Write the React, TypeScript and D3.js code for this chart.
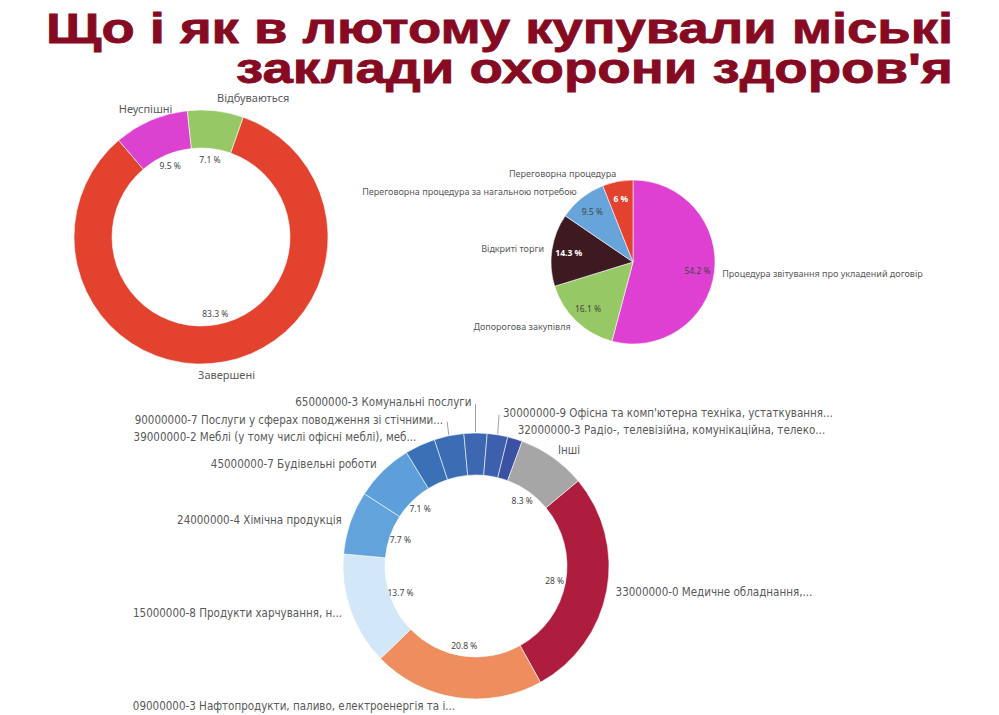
import React from 'react'
import * as d3 from 'd3'

const W = 999
const H = 715

const titleLines = ['Що і як в лютому купували міські', "заклади охорони здоров'я"]

// статус закупівель, %
const statusLabels = ['Завершені', 'Неуспішні', 'Відбуваються']
const statusValues = [83.3, 9.5, 7.1]
const statusColors = ['#e2422e', '#dc42d0', '#97c866']

// тип процедури, %
const procLabels = [
  'Процедура звітування про укладений договір',
  'Допорогова закупівля',
  'Відкриті торги',
  'Переговорна процедура за нагальною потребою',
  'Переговорна процедура',
]
const procValues = [54.2, 16.1, 14.3, 9.5, 6]
const procColors = ['#de40d2', '#97c866', '#3d1a20', '#67a4da', '#e2422e']

// предмет закупівлі (CPV), %
const cpvLabels = [
  '33000000-0 Медичне обладнання,...',
  '09000000-3 Нафтопродукти, паливо, електроенергія та і...',
  '15000000-8 Продукти харчування, н...',
  '24000000-4 Хімічна продукція',
  '45000000-7 Будівельні роботи',
  '39000000-2 Меблі (у тому числі офісні меблі), меб...',
  '90000000-7 Послуги у сферах поводження зі стічними...',
  '65000000-3 Комунальні послуги',
  "30000000-9 Офісна та комп'ютерна техніка, устаткування...",
  '32000000-3 Радіо-, телевізійна, комунікаційна, телеко...',
  'Інші',
]
const cpvValues = [28, 20.8, 13.7, 7.7, 7.1, 3.7, 3.6, 2.8, 2.5, 1.8, 8.3]
const cpvColors = [
  '#ae1c3e', '#ee8e5f', '#d2e8f8', '#63a3dc', '#5d9fda',
  '#3a70b6', '#3b6cb4', '#3c67b1', '#3c60ad', '#3a51a4', '#a6a6a6',
]

const FONT = "'Noto Sans', 'Open Sans', sans-serif"

interface PieProps {
  labels: string[]
  values: number[]
  colors: string[]
  cx: number
  cy: number
  outer: number
  inner: number
  start: number // degrees, clockwise from 12 o'clock
  pctR: number
  labelR: number
  mode: 'center' | 'side'
  anchors?: Record<string, 'start' | 'middle' | 'end'>
  labelSize: number
  pctSize: number
  pctMin?: number
  gap?: number
  mono?: boolean
}

const Pie: React.FC<PieProps> = ({
  labels, values, colors, cx, cy, outer, inner, start, pctR, labelR, mode,
  anchors = {}, labelSize, pctSize, pctMin = 0, gap = 0, mono = false,
}) => {
  const a0 = (start * Math.PI) / 180
  const arcs = d3.pie<number>().sort(null).startAngle(a0).endAngle(a0 + 2 * Math.PI)(values)
  const arc = d3.arc<d3.PieArcDatum<number>>().innerRadius(inner).outerRadius(outer)

  const mids = arcs.map(a => (a.startAngle + a.endAngle) / 2)
  const items = arcs.map((a, i) => {
    const m = mids[i]
    const s = Math.sin(m)
    const c = Math.cos(m)
    return {
      i,
      side: s < 0 ? -1 : 1,
      ax: cx + labelR * s,
      ay: cy - labelR * c,
      y: cy - labelR * c,
      ex: cx + (outer + 1) * s,
      ey: cy - (outer + 1) * c,
    }
  })

  // push overlapping labels upward on each side
  if (gap > 0) {
    for (const side of [-1, 1]) {
      const grp = items.filter(d => d.side === side).sort((p, q) => p.y - q.y)
      for (let k = grp.length - 2; k >= 0; k--) {
        grp[k].y = Math.min(grp[k].y, grp[k + 1].y - gap)
      }
    }
  }

  return (
    <g>
      {arcs.map((a, i) => (
        <path key={i} d={arc(a)!} transform={`translate(${cx},${cy})`}
          fill={colors[i]} stroke="#fff" strokeOpacity={0.7} strokeWidth={0.8} />
      ))}
      {arcs.map((a, i) => {
        if (values[i] < pctMin) return null
        const m = mids[i]
        const lum = d3.lab(colors[i]).l
        const dark = inner === 0 && lum < 54
        return (
          <text key={i} x={cx + pctR * Math.sin(m)} y={cy - pctR * Math.cos(m)}
            textAnchor="middle" dominantBaseline="central" fontFamily={FONT}
            fontSize={pctSize} fontWeight={dark ? 700 : 400}
            fill={dark ? '#fff' : '#444'}>
            {`${values[i]} %`}
          </text>
        )
      })}
      {items.map(d => {
        const name = labels[d.i]
        let anchor: 'start' | 'middle' | 'end' = mode === 'center' ? 'middle' : d.side < 0 ? 'end' : 'start'
        if (anchors[name]) anchor = anchors[name]
        const moved = Math.abs(d.y - d.ay) > 4
        const tx = moved ? d.ax + d.side * 4 : d.ax
        return (
          <g key={d.i}>
            {moved && (
              <line x1={d.ex} y1={d.ey} x2={d.ax} y2={d.y + 2} stroke="#888" strokeWidth={0.8} />
            )}
            <text x={tx} y={d.y} textAnchor={anchor} dominantBaseline="central"
              fontFamily={mono ? "'DejaVu Sans Condensed', 'Noto Sans', sans-serif" : FONT}
              fontSize={labelSize} fill="#595959">
              {name}
            </text>
          </g>
        )
      })}
    </g>
  )
}

export default function App() {
  return (
    <svg width={W} height={H} style={{ position: 'absolute', left: 0, top: 0, background: '#fff' }}>
      <rect width={W} height={H} fill="#fff" />
      <g fontFamily="'Liberation Sans', Arial, sans-serif"
        fontWeight={700} fill="#860a22" fontSize={42} textAnchor="end"
        stroke="#860a22" strokeWidth={0.8}>
        <text x={953} y={43} textLength={907} lengthAdjust="spacingAndGlyphs">{titleLines[0]}</text>
        <text x={953} y={83} textLength={717} lengthAdjust="spacingAndGlyphs">{titleLines[1]}</text>
      </g>

      <Pie labels={statusLabels} values={statusValues} colors={statusColors}
        cx={201} cy={237} outer={127} inner={89} start={19.4}
        pctR={78} labelR={140} mode="center" anchors={{ 'Відбуваються': 'start' }}
        labelSize={11} pctSize={8.5} />

      <Pie labels={procLabels} values={procValues} colors={procColors}
        cx={633} cy={262} outer={82} inner={0} start={0}
        pctR={65} labelR={90} mode="side" labelSize={9} pctSize={8.5} gap={14} />

      <Pie labels={cpvLabels} values={cpvValues} colors={cpvColors}
        cx={476} cy={566} outer={133} inner={91} start={50.2}
        pctR={80} labelR={142} mode="side" labelSize={11.5} pctSize={8.5}
        pctMin={7} gap={17.5} mono />
    </svg>
  )
}
